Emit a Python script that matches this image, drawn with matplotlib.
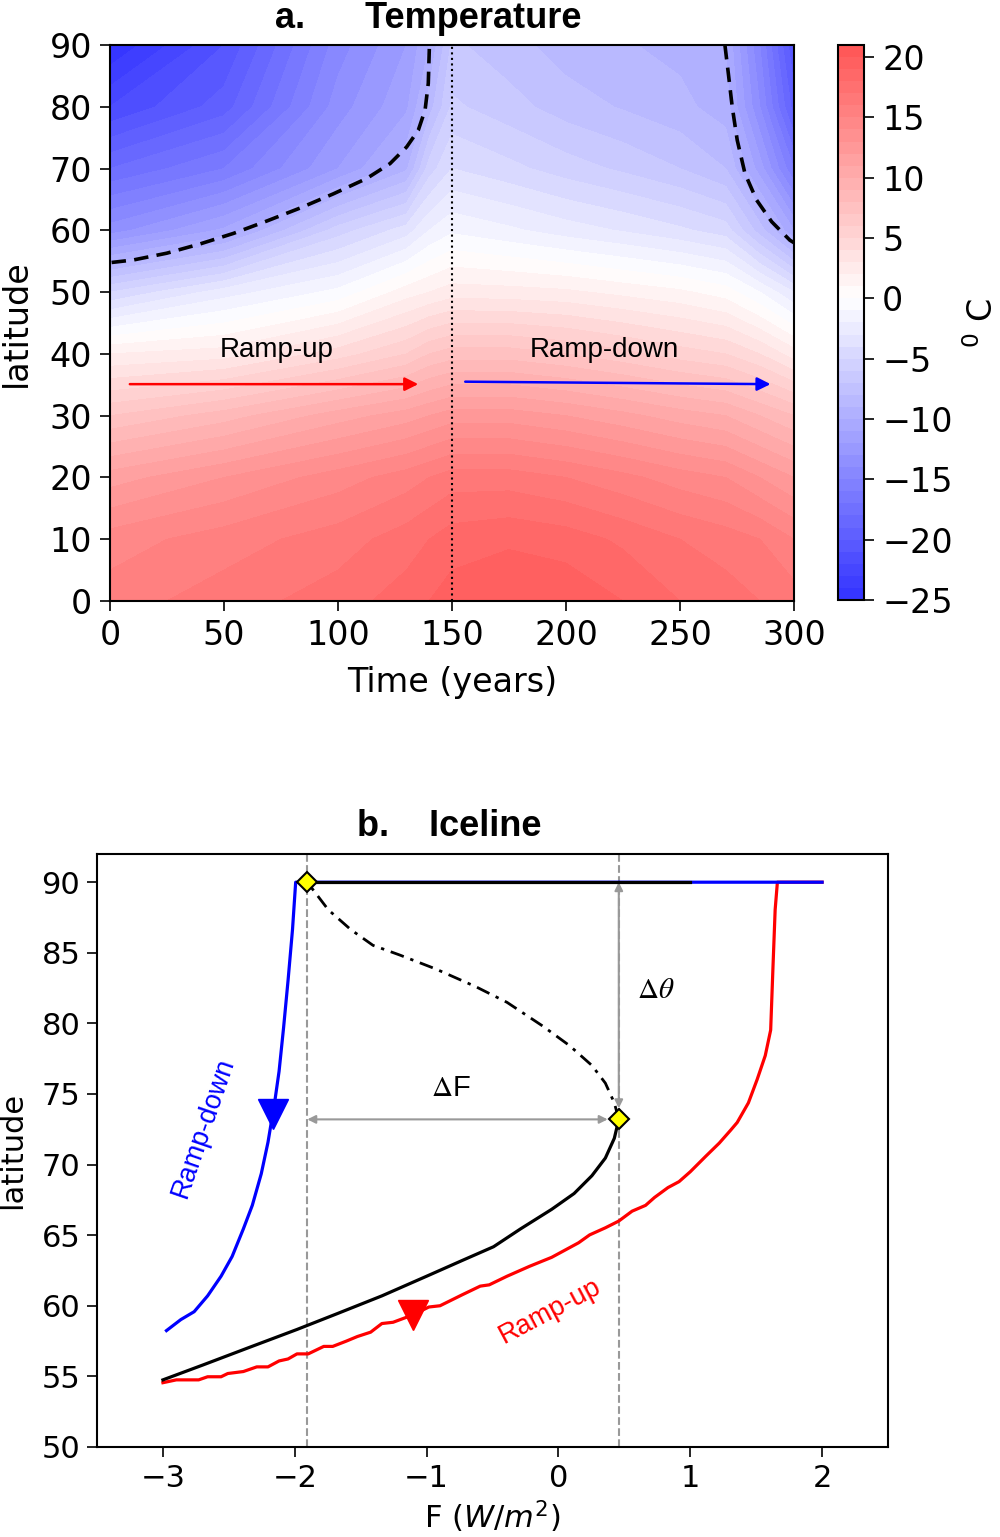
import numpy as np
import matplotlib.pyplot as plt
from matplotlib.colors import ListedColormap

# panel a: zonal mean temperature (deg C)
lat_grid = [0, 10, 20, 30, 40, 50, 60, 70, 80, 90]
time_grid = [0, 50, 100, 130, 140, 150, 175, 200, 225, 250, 270, 285, 300]
# one row per time in time_grid, one value per latitude in lat_grid
temp_by_time = [
    [15.5, 14.5, 11.5, 7.0, 2.0, -5.0, -13.5, -18.0, -22.0, -25.0],
    [16.5, 15.5, 13.0, 8.5, 2.5, -2.5, -10.8, -16.0, -19.5, -21.0],
    [17.5, 16.5, 14.5, 10.5, 4.5, -0.7, -5.5, -12.0, -13.5, -14.5],
    [18.5, 17.5, 15.5, 11.5, 6.0, 1.5, -3.5, -9.2, -11.2, -12.0],
    [19.0, 18.0, 16.0, 12.0, 7.0, 2.0, -2.0, -5.5, -8.5, -10.0],
    [19.5, 18.5, 16.5, 12.5, 7.5, 2.5, -1.2, -4.0, -5.8, -6.8],
    [20.0, 18.8, 16.5, 12.5, 7.5, 2.4, -1.8, -4.7, -6.6, -7.6],
    [19.8, 18.5, 16.0, 12.0, 7.0, 2.2, -2.5, -5.5, -7.5, -8.5],
    [19.0, 17.8, 15.3, 11.3, 6.3, 1.7, -3.1, -6.2, -8.1, -8.9],
    [18.0, 17.0, 14.5, 10.5, 5.5, 1.2, -3.8, -7.0, -8.7, -9.3],
    [17.5, 16.5, 14.0, 10.0, 5.0, 0.5, -4.5, -8.0, -9.5, -10.0],
    [17.0, 16.0, 13.0, 9.0, 4.0, -1.0, -7.5, -11.5, -14.0, -15.0],
    [16.5, 15.0, 12.0, 8.0, 2.5, -3.0, -11.0, -16.0, -19.5, -21.0],
]

# ice edge (dashed) in panel a
ice_up_t = [0.7, 10.2, 24.9, 39.5, 54.1, 68.7, 83.3, 97.9, 112.6, 122.8,
            130.1, 135.2, 138.2, 139.6, 140.1]
ice_up_lat = [54.8, 55.2, 56.3, 57.8, 59.5, 61.5, 63.6, 65.9, 68.4, 70.8,
              73.5, 76.2, 79.5, 83.8, 90.0]
ice_down_t = [269.7, 271.2, 272.9, 275.1, 278.5, 283.6, 290.2, 298.2, 300.0]
ice_down_lat = [90.0, 85.4, 80.0, 74.6, 69.2, 64.9, 61.4, 58.4, 58.0]

# panel a annotations: (x0, y0, x1, y1)
arrow_up = (8.7, 35.1, 135.2, 35.1)
arrow_down = (155.8, 35.5, 289.7, 35.1)

# panel b: iceline vs forcing
up_F = [-3.0, -2.898, -2.729, -2.661, -2.559, -2.508, -2.39, -2.288, -2.203,
        -2.119, -2.051, -1.983, -1.898, -1.78, -1.712, -1.61, -1.525, -1.424,
        -1.339, -1.254, -1.102, -0.983, -0.898, -0.729, -0.593, -0.525, -0.39,
        -0.22, -0.051, 0.153, 0.237, 0.356, 0.458, 0.559, 0.661, 0.729, 0.831,
        0.915, 1.0, 1.119, 1.22, 1.305, 1.356, 1.441, 1.508, 1.569, 1.61,
        1.627, 1.644, 1.661, 2.0]
up_lat = [54.55, 54.75, 54.75, 54.97, 54.97, 55.2, 55.34, 55.67, 55.67,
          56.09, 56.23, 56.59, 56.59, 57.12, 57.12, 57.49, 57.82, 58.13,
          58.74, 58.83, 59.36, 59.91, 60.0, 60.78, 61.39, 61.48, 62.09,
          62.79, 63.43, 64.46, 65.02, 65.52, 66.0, 66.7, 67.11, 67.67, 68.37,
          68.79, 69.49, 70.6, 71.52, 72.42, 72.98, 74.37, 76.04, 77.72, 79.53,
          83.86, 88.05, 90.0, 90.0]
down_F = [2.0, -1.993, -2.017, -2.051, -2.085, -2.119, -2.153, -2.167, -2.203,
          -2.254, -2.322, -2.39, -2.475, -2.559, -2.661, -2.763, -2.864, -2.973]
down_lat = [90.0, 90.0, 86.65, 83.02, 79.67, 76.6, 74.37, 73.6, 71.58,
            69.35, 67.11, 65.44, 63.49, 62.09, 60.7, 59.58, 59.02, 58.24]
eq_F = [-3.0, -2.695, -2.356, -1.983, -1.678, -1.339, -1.0, -0.729, -0.492,
        -0.288, -0.051, 0.119, 0.254, 0.356, 0.424, 0.458]
eq_lat = [54.75, 55.81, 57.01, 58.32, 59.44, 60.7, 62.09, 63.21, 64.18,
          65.44, 66.83, 67.95, 69.21, 70.46, 71.86, 73.2]
unst_F = [0.458, 0.424, 0.356, 0.254, 0.085, -0.119, -0.39, -0.627, -0.932,
          -1.203, -1.407, -1.576, -1.746, -1.905]
unst_lat = [73.2, 74.37, 75.77, 77.02, 78.42, 79.81, 81.49, 82.6, 83.86,
            84.84, 85.53, 86.65, 88.05, 90.0]
ice_free_F = [-1.905, 1.0]
ice_free_lat = [90.0, 90.0]
fold_F = [-1.905, 0.458]
fold_lat = [90.0, 73.2]
up_mark = 20     # index on ramp-up curve carrying the direction marker
down_mark = 7    # index on ramp-down curve carrying the direction marker

sans = 'Liberation Sans'

base = plt.get_cmap('bwr')(np.linspace(0, 1, 256))
base[:, :3] = 0.8 * base[:, :3] + 0.2
cmap = ListedColormap(base)

fig = plt.figure(figsize=(10, 15.37), dpi=100)
ax1 = fig.add_axes([0.110, 0.6090, 0.684, 0.3617])
cax = fig.add_axes([0.838, 0.6097, 0.026, 0.3610])
ax2 = fig.add_axes([0.097, 0.0586, 0.791, 0.3858])

# ---- a. Temperature ----
T = np.array(temp_by_time).T
cf = ax1.contourf(time_grid, lat_grid, T, levels=np.arange(-25, 22, 1),
                  cmap=cmap, vmin=-25, vmax=25)
ax1.plot(ice_up_t, ice_up_lat, 'k--', lw=2.6, dashes=(4, 2.3))
ax1.plot(ice_down_t, ice_down_lat, 'k--', lw=2.6, dashes=(4, 2.3))
ax1.axvline(150, color='k', ls=':', lw=1.5)
for arr, c in [(arrow_up, 'red'), (arrow_down, 'blue')]:
    ax1.annotate('', xy=(arr[2], arr[3]), xytext=(arr[0], arr[1]),
                 arrowprops=dict(arrowstyle='-|>', color=c, lw=1.8,
                                 mutation_scale=20, shrinkA=0, shrinkB=0))
ax1.text(73, 40.7, 'Ramp-up', ha='center', va='center', fontsize=20, family=sans)
ax1.text(217, 40.7, 'Ramp-down', ha='center', va='center', fontsize=20, family=sans)
ax1.set_xlim(0, 300)
ax1.set_ylim(0, 90)
ax1.set_xticks(range(0, 301, 50))
ax1.set_yticks(range(0, 91, 10))
ax1.tick_params(labelsize=24, length=7, width=1.2, pad=6)
ax1.set_xlabel('Time (years)', fontsize=24, labelpad=10)
ax1.set_ylabel('latitude', fontsize=24, labelpad=12)
for s in ax1.spines.values():
    s.set_linewidth(1.5)

cb = fig.colorbar(cf, cax=cax, ticks=range(-25, 21, 5))
cb.ax.tick_params(labelsize=24, length=7, width=1.2, pad=6)
cb.outline.set_linewidth(1.5)
cb.set_label('$^0$ C', fontsize=24, labelpad=9)

fig.text(0.275, 0.9818, 'a.      Temperature', ha='left', va='baseline',
         fontsize=26, fontweight='bold', family=sans)

# ---- b. Iceline ----
ax2.axvline(fold_F[0], color='0.6', ls='--', lw=1.5, zorder=1)
ax2.axvline(fold_F[1], color='0.6', ls='--', lw=1.5, zorder=1)
ax2.plot(up_F, up_lat, color='red', lw=2.3, zorder=2)
ax2.plot(down_F, down_lat, color='blue', lw=2.3, zorder=3)
ax2.plot(eq_F, eq_lat, color='k', lw=2.3, zorder=4)
ax2.plot(ice_free_F, ice_free_lat, color='k', lw=2.3, zorder=4)
ax2.plot(unst_F, unst_lat, color='k', lw=2, ls='-.', dashes=(5, 2.5, 1.2, 2.5),
         zorder=4)
ax2.plot(up_F[up_mark], up_lat[up_mark], 'v', color='red', ms=22, zorder=5)
ax2.plot(down_F[down_mark], down_lat[down_mark], 'v', color='blue', ms=22, zorder=5)
ax2.plot(fold_F, fold_lat, 'D', ms=10, mfc='yellow', mec='k', mew=1.5,
         ls='none', zorder=6)

ax2.annotate('', xy=(fold_F[0], fold_lat[1]), xytext=(fold_F[1], fold_lat[1]),
             arrowprops=dict(arrowstyle='<|-|>', color='0.6', lw=1.5,
                             mutation_scale=12, shrinkA=8, shrinkB=0))
ax2.annotate('', xy=(fold_F[1], fold_lat[0]), xytext=(fold_F[1], fold_lat[1]),
             arrowprops=dict(arrowstyle='<|-|>', color='0.6', lw=1.5,
                             mutation_scale=12, shrinkA=8, shrinkB=0))
ax2.text(-0.816, 75.4, r'$\Delta$F', ha='center', va='center', fontsize=21,
         family=sans, math_fontfamily='stix')
ax2.text(0.737, 82.35, r'$\Delta\theta$', ha='center', va='center', fontsize=21,
         math_fontfamily='stix')
ax2.text(-2.696, 72.65, 'Ramp-down', color='blue', rotation=71, ha='center',
         va='center', fontsize=19.5, family=sans, rotation_mode='anchor')
ax2.text(-0.062, 59.63, 'Ramp-up', color='red', rotation=28, ha='center',
         va='center', fontsize=19.5, family=sans, rotation_mode='anchor')

ax2.set_xlim(-3.5, 2.5)
ax2.set_ylim(50, 92)
ax2.set_xticks(range(-3, 3))
ax2.set_yticks(range(50, 91, 5))
ax2.tick_params(labelsize=22, length=7, width=1.2, pad=5)
ax2.set_xlabel('F ($W/m^2$)', fontsize=22, labelpad=4)
ax2.set_ylabel('latitude', fontsize=22, labelpad=10)
for s in ax2.spines.values():
    s.set_linewidth(1.5)

fig.text(0.357, 0.4561, 'b.    Iceline', ha='left', va='baseline',
         fontsize=26, fontweight='bold', family=sans)

fig.savefig('out.png', dpi=100)
